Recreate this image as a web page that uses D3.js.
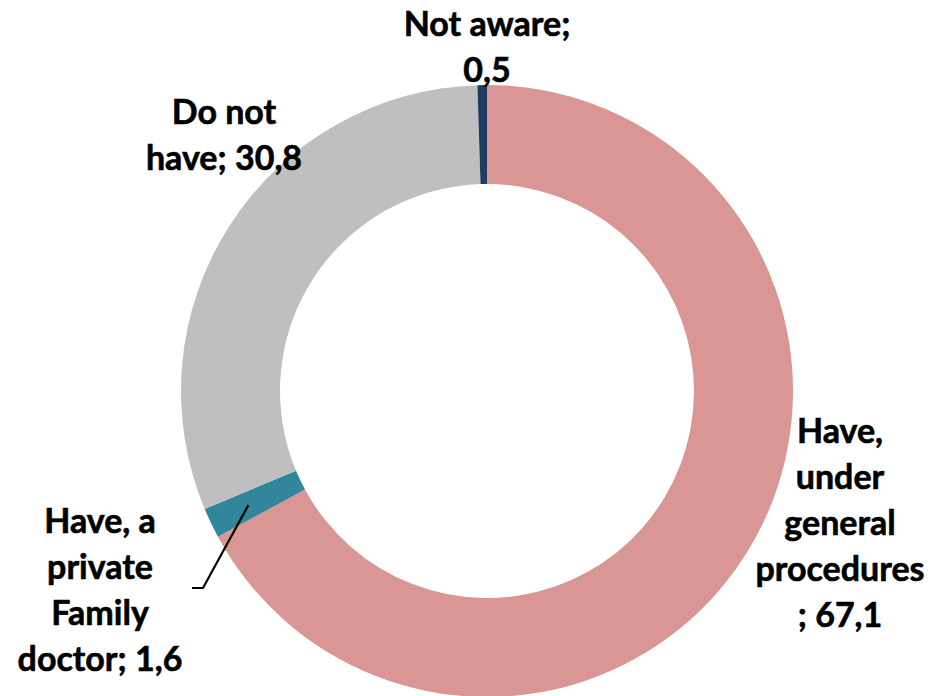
<!DOCTYPE html>
<html>
<head>
<meta charset="utf-8">
<script src="https://cdn.jsdelivr.net/npm/d3@7"></script>
<style>
  html, body { margin: 0; padding: 0; background: #ffffff; }
  svg { display: block; }
  text { font-family: Lato, "Open Sans", sans-serif; font-weight: 700; fill: #000; stroke: #000; stroke-width: 0.6px; }
</style>
</head>
<body>
<svg id="chart" width="942" height="696"></svg>
<script>
const categories = ["Have, under general procedures", "Have, a private Family doctor", "Do not have", "Not aware"];
const values = [67.1, 1.6, 30.8, 0.5];
const colors = ["#D99694", "#31859C", "#BFBFBF", "#1F3B60"];
const labelLines = [
  ["Have,", "under", "general", "procedures", "; 67,1"],
  ["Have, a", "private", "Family", "doctor; 1,6"],
  ["Do not", "have; 30,8"],
  ["Not aware;", "0,5"]
];
const labelPos = [
  {x: 840, y: 443},
  {x: 100, y: 533},
  {x: 224, y: 124},
  {x: 487, y: 36}
];

const W = 942, H = 696;
const cx = 487, cy = 391, rOuter = 306, rInner = 207;
const lineH = 46;

const svg = d3.select("#chart");
const data = categories.map((c, i) => ({name: c, value: values[i], color: colors[i], lines: labelLines[i], pos: labelPos[i]}));

const pie = d3.pie().sort(null).value(d => d.value).startAngle(0).endAngle(2 * Math.PI);
const arc = d3.arc().innerRadius(rInner).outerRadius(rOuter);
const arcs = pie(data);

const g = svg.append("g").attr("transform", `translate(${cx},${cy})`);
g.selectAll("path").data(arcs).join("path")
  .attr("d", arc)
  .attr("fill", d => d.data.color);

// leader line for the small teal slice
const small = arcs[1];
const midR = (rInner + rOuter) / 2;
const ma = (small.startAngle + small.endAngle) / 2;
const p0 = [cx + Math.sin(ma) * (midR + 8), cy - Math.cos(ma) * (midR + 8)];
svg.append("polyline")
  .attr("points", `${p0[0]},${p0[1]} 203,588 192,588`)
  .attr("fill", "none")
  .attr("stroke", "#000")
  .attr("stroke-width", 2.2);

const labels = svg.append("g");
data.forEach(d => {
  const t = labels.append("text")
    .attr("text-anchor", "middle")
    .attr("font-size", 34);
  d.lines.forEach((ln, j) => {
    t.append("tspan").attr("x", d.pos.x).attr("y", d.pos.y + j * lineH).text(ln);
  });
});
</script>
</body>
</html>
